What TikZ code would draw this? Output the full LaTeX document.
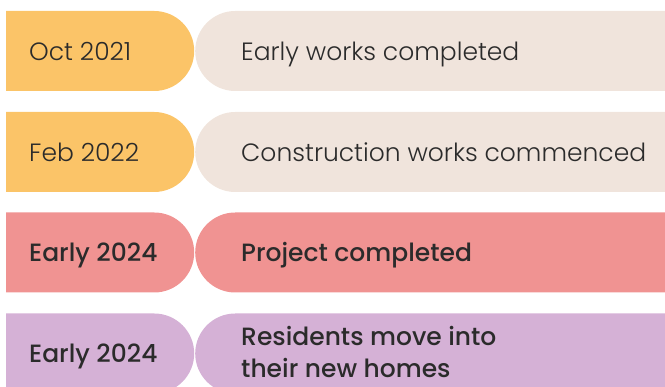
\documentclass[tikz,border=0pt]{standalone}
\usepackage{fontspec}
\setmainfont{Poppins Light}[BoldFont={Poppins Medium}]
\usetikzlibrary{shapes.misc}
\definecolor{cyel}{HTML}{FBC468}
\definecolor{cbei}{HTML}{F0E4DC}
\definecolor{cpink}{HTML}{F09392}
\definecolor{clav}{HTML}{D5B1D6}
\definecolor{ctext}{HTML}{2B2B2B}
\tikzset{
  datebox/.style={rounded rectangle, rounded rectangle west arc=none, minimum width=188pt, minimum height=80pt, inner sep=0pt, draw=none, anchor=west},
  eventbox/.style={rounded rectangle, rounded rectangle east arc=none, minimum width=490pt, minimum height=80pt, inner sep=0pt, draw=none, anchor=west},
  lbl/.style={anchor=base west, inner sep=0pt, text=ctext, font=\fontsize{25pt}{32.4pt}\selectfont, align=left},
  blbl/.style={lbl, font=\bfseries\fontsize{25pt}{32.4pt}\selectfont},
}
\begin{document}
\begin{tikzpicture}[x=1pt,y=1pt]
\useasboundingbox (0,0) rectangle (665,387);
\begin{scope}
\clip (0,0) rectangle (665,387);
\node[datebox, fill=cyel] (d1) at (6,336) {};
\node[eventbox, fill=cbei] (e1) at (195,336) {};
\node[datebox, fill=cyel] (d2) at (6,235) {};
\node[eventbox, fill=cbei] (e2) at (195,235) {};
\node[datebox, fill=cpink] (d3) at (6,134.5) {};
\node[eventbox, fill=cpink] (e3) at (195,134.5) {};
\node[datebox, fill=clav] (d4) at (6,33.5) {};
\node[eventbox, fill=clav] (e4) at (195,33.5) {};
\end{scope}
\node[lbl] (t1) at ([xshift=23pt,yshift=-9.5pt]d1.west) {Oct 2021};
\node[lbl] (u1) at ([xshift=46pt,yshift=-9.5pt]e1.west) {Early works completed};
\node[lbl] (t2) at ([xshift=23pt,yshift=-9.5pt]d2.west) {Feb 2022};
\node[lbl] (u2) at ([xshift=46pt,yshift=-9.5pt]e2.west) {Construction works commenced};
\node[blbl] (t3) at ([xshift=23pt,yshift=-9.5pt]d3.west) {Early 2024};
\node[blbl] (u3) at ([xshift=46pt,yshift=-9.5pt]e3.west) {Project completed};
\node[blbl] (t4) at ([xshift=23pt,yshift=-9.5pt]d4.west) {Early 2024};
\node[blbl] (u4) at ([xshift=46pt,yshift=-24.5pt]e4.west) {Residents move into\\their new homes};
\end{tikzpicture}
\end{document}
